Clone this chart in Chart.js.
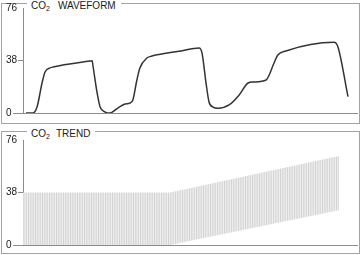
<!DOCTYPE html>
<html lang="en">
<head>
    <meta charset="UTF-8">
    <title>CO2 Waveform and Trend</title>
    <style>
        body {
            margin: 0;
            background: #fff;
            font-family: "Liberation Sans", Arial, sans-serif;
        }
        .wrap {
            position: relative;
            width: 362px;
            height: 255px;
            overflow: hidden;
        }
        .panel {
            position: absolute;
            left: 1px;
            width: 357px;
            border: 1px solid #a3a3a3;
        }
        #p1 { top: 3px; height: 119px; }
        #p2 { top: 131px; height: 121px; }
        .title {
            position: absolute;
            left: 25px;
            top: -4px;
            background: #fff;
            padding: 0 5px 0 4px;
            font-family: "Liberation Sans", Arial, sans-serif;
            font-size: 10px;
            line-height: 12px;
            color: #1a1a1a;
            white-space: nowrap;
        }
        .title sub {
            font-size: 7px;
            vertical-align: -2px;
            line-height: 0;
        }
        canvas {
            position: absolute;
            left: 0;
        }
        #wave { top: 0; }
        #trend { top: 128px; }
    </style>
</head>
<body>
    <div class="wrap">
        <div class="panel" id="p1">
            <span class="title">CO<sub>2</sub><span style="margin-left:8px">WAVEFORM</span></span>
        </div>
        <div class="panel" id="p2">
            <span class="title">CO<sub>2</sub><span style="margin-left:6px">TREND</span></span>
        </div>
        <canvas id="wave" width="362" height="120"></canvas>
        <canvas id="trend" width="362" height="124"></canvas>
    </div>

    <script src="https://cdn.jsdelivr.net/npm/chart.js"></script>
    <script>
        // y axis ticks (mmHg)
        const yTicks = [0, 38, 76];

        // waveform: time (0-100 across the panel) and CO2 reading
        const waveTime = [0.9, 3.0, 4.2, 5.7, 6.6, 8.1, 9.0, 20.1, 20.7, 21.0, 22.2, 23.1, 24.6, 26.0,
            28.4, 30.5, 32.0, 32.9, 34.1, 35.0, 37.1, 38.6, 47.3, 52.7, 53.6, 54.8, 55.7, 56.9, 58.4,
            61.7, 64.7, 67.4, 68.9, 72.8, 73.7, 74.9, 76.3, 78.7, 93.1, 94.3, 97.3];
        const waveCO2 = [0, 0, 4.3, 21.7, 29.7, 32.6, 33.3, 37.6, 37.8, 33.3, 14.5, 4.3, 0.7, 0,
            3.6, 6.5, 7.2, 9.4, 23.9, 32.6, 39.8, 41.2, 44.9, 47.0, 43.4, 21.7, 8.0, 4.3, 3.4,
            5.8, 13.0, 21.7, 22.4, 23.9, 27.5, 34.7, 42.0, 44.9, 51.2, 47.8, 11.8];

        // trend: high / low band over time
        const trendTime = [0, 44.0, 94.6];
        const trendHigh = [38, 38, 64.5];
        const trendLow = [0, 0, 25.1];

        const axisColor = '#8c8c8c';
        const fontFamily = '"Liberation Sans", Arial, sans-serif';

        const zeroLead = {
            id: 'zeroLead',
            afterDraw(chart) {
                const y = Math.round(chart.scales.y.getPixelForValue(0)) + 0.5;
                const c = chart.ctx;
                c.save();
                c.strokeStyle = axisColor;
                c.lineWidth = 1;
                c.beginPath();
                c.moveTo(13, y);
                c.lineTo(chart.chartArea.left, y);
                c.stroke();
                c.restore();
            }
        };

        function makeScales() {
            return {
                x: {
                    type: 'linear', min: 0, max: 100,
                    ticks: { display: false },
                    grid: { display: false, drawTicks: false },
                    border: { display: true, color: axisColor, width: 1 },
                    afterFit: s => { s.height = 0; s.paddingLeft = 0; s.paddingRight = 0; }
                },
                y: {
                    type: 'linear', min: 0, max: 76,
                    afterBuildTicks: s => { s.ticks = yTicks.map(v => ({ value: v })); },
                    afterFit: s => { s.width = 17; s.paddingTop = 0; s.paddingBottom = 0; },
                    grid: {
                        drawOnChartArea: false,
                        drawTicks: true,
                        tickLength: 5,
                        color: c => (c.tick && c.tick.value === 76) ? 'rgba(0,0,0,0)' : axisColor
                    },
                    border: { display: true, color: axisColor, width: 1 },
                    ticks: {
                        crossAlign: 'far',
                        padding: 2,
                        color: '#1a1a1a',
                        font: { family: fontFamily, size: 10 }
                    }
                }
            };
        }

        const baseOptions = (top) => ({
            responsive: false,
            animation: false,
            layout: { padding: { left: 6, right: 5, top: top, bottom: 7 } },
            plugins: { legend: { display: false }, tooltip: { enabled: false } },
            scales: makeScales()
        });

        new Chart(document.getElementById('wave'), {
            type: 'line',
            data: {
                datasets: [{
                    data: waveTime.map((t, i) => ({ x: t, y: waveCO2[i] })),
                    borderColor: '#333',
                    borderWidth: 1.5,
                    pointRadius: 0,
                    cubicInterpolationMode: 'monotone',
                    fill: false
                }]
            },
            options: baseOptions(8),
            plugins: [zeroLead]
        });

        // vertical stripe pattern for the trend band
        const tile = document.createElement('canvas');
        tile.width = 7;
        tile.height = 4;
        const tctx = tile.getContext('2d');
        tctx.fillStyle = '#efefef';
        tctx.fillRect(0, 0, 7, 4);
        tctx.fillStyle = '#d3d3d3';
        [0, 2.33, 4.67].forEach(x => tctx.fillRect(x, 0, 1.1, 4));
        const trendCanvas = document.getElementById('trend');
        const stripes = trendCanvas.getContext('2d').createPattern(tile, 'repeat');

        new Chart(trendCanvas, {
            type: 'line',
            data: {
                datasets: [{
                    data: trendTime.map((t, i) => ({ x: t, y: trendHigh[i] })),
                    borderWidth: 0,
                    pointRadius: 0,
                    fill: '+1',
                    backgroundColor: stripes
                }, {
                    data: trendTime.map((t, i) => ({ x: t, y: trendLow[i] })),
                    borderWidth: 0,
                    pointRadius: 0,
                    fill: false
                }]
            },
            options: baseOptions(12),
            plugins: [zeroLead]
        });
    </script>
</body>
</html>
